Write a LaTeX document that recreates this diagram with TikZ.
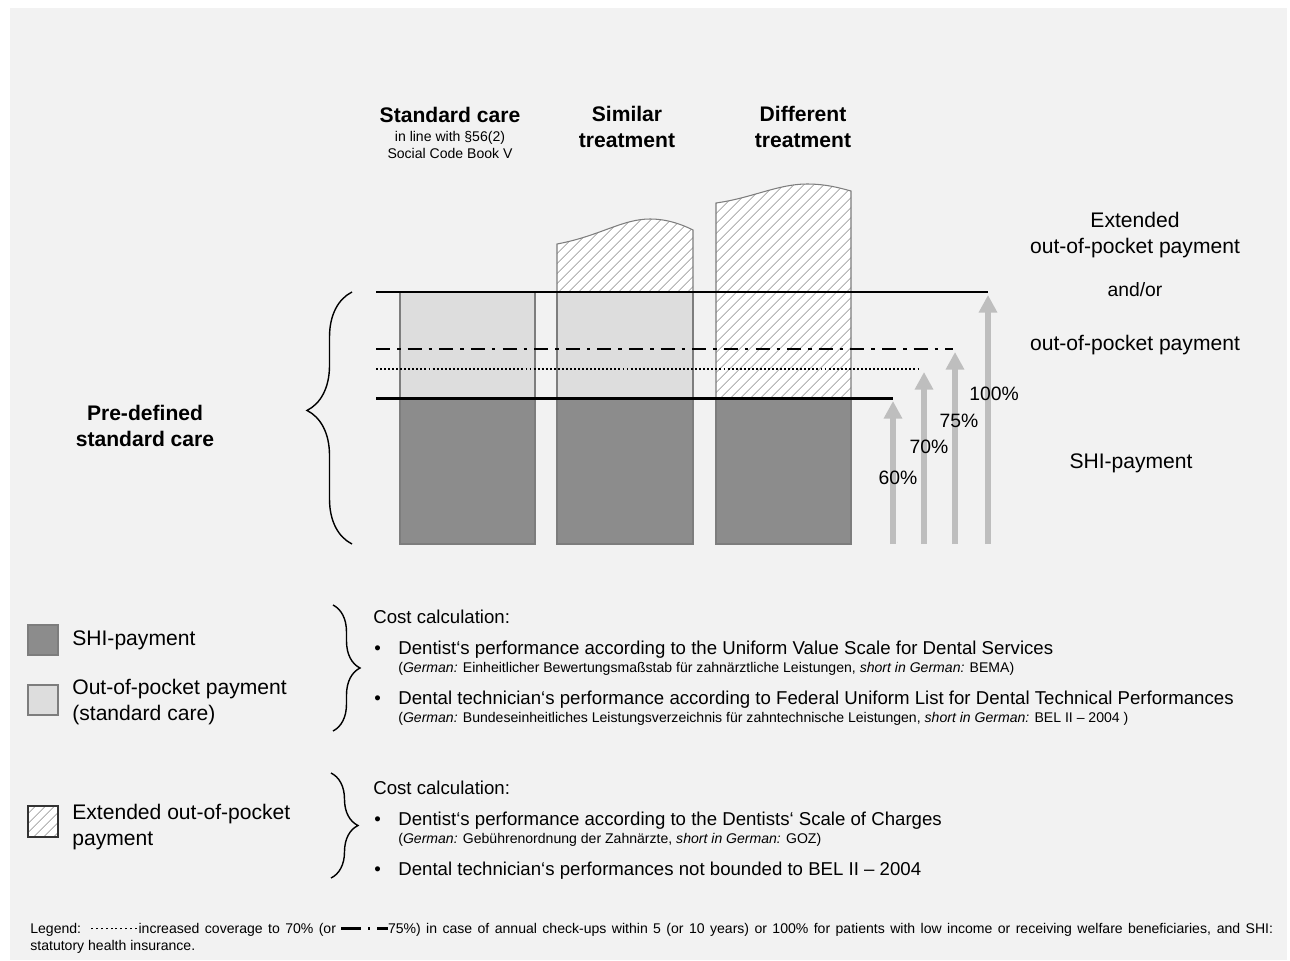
\documentclass[tikz,border=0pt]{standalone}
\usepackage{fontspec}
\setmainfont{Liberation Sans}
\usetikzlibrary{decorations.pathreplacing,patterns.meta,arrows.meta}

\newcommand{\dotsample}{\raisebox{2.4pt}{\makebox[28pt]{\xleaders\hbox to 2.6pt{\hss\rule{1.1pt}{1.1pt}\hss}\hfill}}}
\newcommand{\dashdotsample}{\rule[2.2pt]{11pt}{1.5pt}\hspace{4pt}\rule[2.2pt]{1.5pt}{1.5pt}\hspace{4pt}\rule[2.2pt]{6pt}{1.5pt}}

\begin{document}
\begin{tikzpicture}[x=0.02cm,y=-0.02cm,
  title/.style={font=\fontsize{12}{14.5}\selectfont\bfseries,align=center},
  sub/.style={font=\fontsize{8}{9.6}\selectfont,align=center},
  lbl/.style={font=\fontsize{12}{14.8}\selectfont,align=center},
  pct/.style={font=\fontsize{11}{13}\selectfont,inner sep=0pt},
  item/.style={font=\fontsize{10.6}{13}\selectfont,anchor=west,inner sep=0pt},
  note/.style={font=\fontsize{8}{10}\selectfont,anchor=west,inner sep=0pt},
  bar/.style={draw=edgeGray,line width=0.6pt},
  hatched/.style={bar,preaction={fill=white},pattern={Lines[angle=45,distance=4pt,line width=0.6pt]},pattern color=hatchGray},
  level/.style={line width=1.7pt},
  rise/.style={arrowGray,line width=3.4pt,-{Triangle[width=10pt,length=10pt]}},
  curly/.style={decorate,line width=0.8pt}]
\definecolor{bgGray}{RGB}{242,242,242}
\definecolor{shiGray}{RGB}{140,140,140}
\definecolor{oopGray}{RGB}{221,221,221}
\definecolor{hatchGray}{RGB}{185,185,185}
\definecolor{arrowGray}{RGB}{190,190,190}
\definecolor{edgeGray}{RGB}{125,125,125}
% page and background
\fill[white] (0,0) rectangle (1290,960);
\useasboundingbox (0,0) rectangle (1290,960);
\fill[bgGray] (10,8) rectangle (1287,960);

% column headings
\node[title] (stdHead) at (450,115) {Standard care};
\node[sub] (stdSub) at (450,145) {in line with §56(2)\\Social Code Book V};
\node[title] (simHead) at (627,127) {Similar\\treatment};
\node[title] (difHead) at (803,127) {Different\\treatment};

% bars
\filldraw[bar,fill=oopGray] (400,292) rectangle (535,398);
\filldraw[bar,fill=shiGray] (400,398) rectangle (535,544);
\draw[hatched] (557,292) -- (557,244) .. controls (600,236) and (622,219) .. (650,219)
  .. controls (668,219) and (683,225) .. (693,230) -- (693,292) -- cycle;
\filldraw[bar,fill=oopGray] (557,292) rectangle (693,398);
\filldraw[bar,fill=shiGray] (557,398) rectangle (693,544);
\draw[hatched] (716,398) -- (716,203) .. controls (752,198) and (778,184) .. (807,184)
  .. controls (826,184) and (840,188) .. (851,191) -- (851,398) -- cycle;
\filldraw[bar,fill=shiGray] (716,398) rectangle (851,544);

% levels
\draw[level] (376,292) -- (988,292);
\draw[line width=1.2pt,dash pattern=on 8pt off 4pt on 2pt off 4pt] (376,349) -- (953,349);
\draw[line width=1.1pt,dash pattern=on 1.1pt off 1.2pt] (376,369) -- (921,369);
\draw[level] (376,398) -- (893,398);

% coverage arrows
\coordinate (b60) at (893,544); \coordinate (t60) at (893,401);
\coordinate (b70) at (924,544); \coordinate (t70) at (924,372);
\coordinate (b75) at (955,544); \coordinate (t75) at (955,352);
\coordinate (b100) at (988,544); \coordinate (t100) at (988,295);
\draw[rise] (b60) -- (t60);
\draw[rise] (b70) -- (t70);
\draw[rise] (b75) -- (t75);
\draw[rise] (b100) -- (t100);
\node[pct] (p60) at (898,478) {60\%};
\node[pct] (p70) at (929,447) {70\%};
\node[pct] (p75) at (959,421) {75\%};
\node[pct] (p100) at (994,394) {100\%};

% right hand labels
\node[lbl] (extLbl) at (1135,235) {Extended\\out-of-pocket payment};
\node[lbl,font=\fontsize{11}{13}\selectfont] (andLbl) at (1135,290) {and/or};
\node[lbl] (oopLbl) at (1135,345) {out-of-pocket payment};
\node[lbl] (shiLbl) at (1131,463) {SHI-payment};

% left brace
\draw[curly,decoration={brace,amplitude=0.9cm,aspect=0.53}] (352,544) -- (352,292);
\node[title] (preLbl) at (145,426) {Pre-defined\\standard care};

% legend boxes
\filldraw[bar,fill=shiGray] (28,625) rectangle (58,655);
\node[item,font=\fontsize{12}{14}\selectfont] (shiKey) at (72,640) {SHI-payment};
\filldraw[bar,fill=oopGray] (28,685) rectangle (58,715);
\node[item,font=\fontsize{12}{14.5}\selectfont,align=left] (oopKey) at (72,702) {Out-of-pocket payment\\(standard care)};
\draw[hatched,draw=black!80] (28,806) rectangle (58,837);
\node[item,font=\fontsize{12}{14.5}\selectfont,align=left] (extKey) at (72,827) {Extended out-of-pocket\\payment};

% legend braces
\draw[curly,decoration={brace,amplitude=0.54cm}] (333,605) -- (333,731);
\draw[curly,decoration={brace,amplitude=0.54cm}] (331,773) -- (331,878);

% cost calculation, standard care
\node[item] (costA) at (373,617) {Cost calculation:};
\node[item] (bulA1) at (374,650) {\textbullet};
\node[item] (txtA1) at (398,650) {Dentist‘s performance according to the Uniform Value Scale for Dental Services};
\node[note] (gerA1) at (398,669) {(\textit{German:} Einheitlicher Bewertungsmaßstab für zahnärztliche Leistungen, \textit{short in German:} BEMA)};
\node[item] (bulA2) at (374,700) {\textbullet};
\node[item] (txtA2) at (398,700) {Dental technician‘s performance according to Federal Uniform List for Dental Technical Performances};
\node[note] (gerA2) at (398,719) {(\textit{German:} Bundeseinheitliches Leistungsverzeichnis für zahntechnische Leistungen, \textit{short in German:} BEL II – 2004 )};

% cost calculation, extended
\node[item] (costB) at (373,788) {Cost calculation:};
\node[item] (bulB1) at (374,821) {\textbullet};
\node[item] (txtB1) at (398,821) {Dentist‘s performance according to the Dentists‘ Scale of Charges};
\node[note] (gerB1) at (398,840) {(\textit{German:} Gebührenordnung der Zahnärzte, \textit{short in German:} GOZ)};
\node[item] (bulB2) at (374,871) {\textbullet};
\node[item] (txtB2) at (398,871) {Dental technician‘s performances not bounded to BEL II – 2004};

% footnote
\node[note] (foot1) at (30,930) {\makebox[24.86cm][s]{Legend: \dotsample increased coverage to 70\% (or \dashdotsample 75\%) in case of annual check-ups within 5 (or 10 years) or 100\% for patients with low income or receiving welfare beneficiaries, and SHI:}};
\node[note] (foot2) at (30,947) {statutory health insurance.};
\end{tikzpicture}
\end{document}
